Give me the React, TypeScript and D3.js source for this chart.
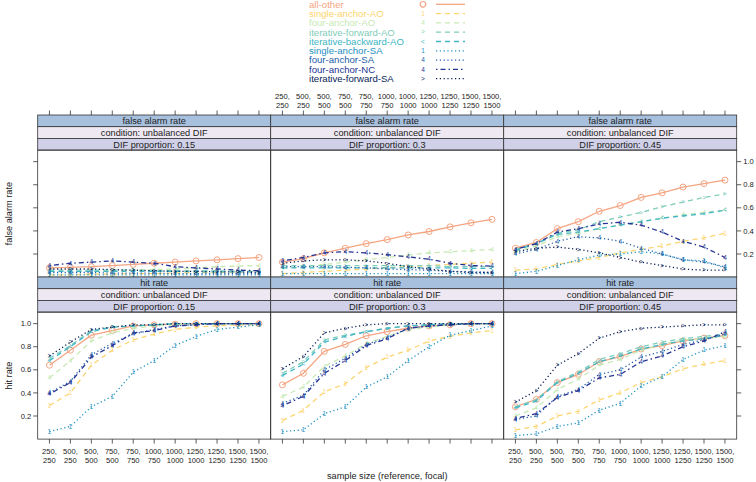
import React from "react";
import * as d3 from "d3";

// sample sizes (reference, focal)
const reference = [250, 500, 500, 750, 750, 1000, 1000, 1250, 1250, 1500, 1500];
const focal = [250, 250, 500, 500, 750, 750, 1000, 1000, 1250, 1250, 1500];
const categories = reference.map((r, i) => `${r},${focal[i]}`);

const methods = [
  "all-other",
  "single-anchor-AO",
  "four-anchor-AO",
  "iterative-forward-AO",
  "iterative-backward-AO",
  "single-anchor-SA",
  "four-anchor-SA",
  "four-anchor-NC",
  "iterative-forward-SA",
];
const colors = ["#F4A582", "#FDD56E", "#C7E9B4", "#7FCDBB", "#41B6C4", "#1D91C0", "#225EA8", "#253494", "#081D58"];
const glyphs = ["o", "1", "4", ">", "<", "1", "4", "4", ">"];
const dashes = [null, "5 4", "5 4", "5 4", "5 4", "1.2 2.6", "1.2 2.6", "1.5 3 5 3", "1.2 2.6"];

const proportions = ["0.15", "0.3", "0.45"];
const measures = ["false alarm rate", "hit rate"];

// false alarm rate, one row per method
const far015 = [
  [0.08, 0.085, 0.09, 0.1, 0.11, 0.12, 0.13, 0.14, 0.15, 0.16, 0.17],
  [0.02, 0.02, 0.025, 0.025, 0.03, 0.03, 0.035, 0.04, 0.04, 0.045, 0.05],
  [0.05, 0.05, 0.05, 0.055, 0.06, 0.065, 0.07, 0.08, 0.09, 0.095, 0.1],
  [0.06, 0.06, 0.06, 0.06, 0.06, 0.055, 0.055, 0.055, 0.055, 0.05, 0.05],
  [0.05, 0.05, 0.05, 0.05, 0.05, 0.05, 0.05, 0.045, 0.045, 0.045, 0.045],
  [0.02, 0.02, 0.02, 0.02, 0.02, 0.02, 0.02, 0.02, 0.02, 0.02, 0.02],
  [0.04, 0.04, 0.04, 0.035, 0.035, 0.035, 0.03, 0.03, 0.03, 0.03, 0.03],
  [0.1, 0.12, 0.13, 0.14, 0.13, 0.12, 0.09, 0.08, 0.07, 0.06, 0.055],
  [0.07, 0.07, 0.07, 0.065, 0.06, 0.055, 0.05, 0.05, 0.045, 0.045, 0.04],
];
const far030 = [
  [0.13, 0.16, 0.21, 0.25, 0.29, 0.325, 0.365, 0.395, 0.435, 0.47, 0.5],
  [0.03, 0.04, 0.05, 0.06, 0.07, 0.08, 0.09, 0.1, 0.11, 0.12, 0.13],
  [0.08, 0.09, 0.11, 0.13, 0.15, 0.17, 0.19, 0.21, 0.22, 0.23, 0.24],
  [0.1, 0.1, 0.1, 0.1, 0.1, 0.1, 0.1, 0.1, 0.09, 0.09, 0.09],
  [0.08, 0.08, 0.08, 0.08, 0.08, 0.08, 0.08, 0.08, 0.08, 0.075, 0.075],
  [0.03, 0.03, 0.03, 0.03, 0.03, 0.03, 0.03, 0.03, 0.03, 0.03, 0.03],
  [0.09, 0.09, 0.09, 0.085, 0.08, 0.07, 0.065, 0.06, 0.05, 0.045, 0.04],
  [0.14, 0.17, 0.21, 0.22, 0.21, 0.195, 0.175, 0.155, 0.12, 0.1, 0.095],
  [0.12, 0.14, 0.15, 0.15, 0.14, 0.12, 0.09, 0.07, 0.05, 0.04, 0.04],
];
const far045 = [
  [0.25, 0.3, 0.42, 0.48, 0.57, 0.62, 0.69, 0.73, 0.78, 0.81, 0.84],
  [0.06, 0.07, 0.11, 0.14, 0.17, 0.21, 0.24, 0.27, 0.31, 0.34, 0.38],
  [0.22, 0.27, 0.35, 0.38, 0.42, 0.45, 0.48, 0.51, 0.54, 0.56, 0.58],
  [0.24, 0.29, 0.38, 0.41, 0.48, 0.52, 0.56, 0.61, 0.65, 0.69, 0.72],
  [0.23, 0.29, 0.37, 0.39, 0.42, 0.45, 0.48, 0.51, 0.53, 0.55, 0.58],
  [0.03, 0.05, 0.1, 0.15, 0.19, 0.2, 0.22, 0.2, 0.15, 0.14, 0.08],
  [0.2, 0.24, 0.31, 0.35, 0.34, 0.31, 0.25, 0.2, 0.15, 0.13, 0.09],
  [0.24, 0.29, 0.39, 0.42, 0.46, 0.475, 0.45, 0.39, 0.31, 0.26, 0.17],
  [0.22, 0.25, 0.26, 0.24, 0.21, 0.17, 0.13, 0.1, 0.07, 0.06, 0.06],
];

// hit rate, one row per method
const hit015 = [
  [0.64, 0.77, 0.9, 0.94, 0.98, 0.99, 0.995, 1, 1, 1, 1],
  [0.29, 0.4, 0.64, 0.77, 0.86, 0.91, 0.95, 0.97, 0.98, 0.99, 0.99],
  [0.53, 0.68, 0.85, 0.92, 0.96, 0.98, 0.99, 1, 1, 1, 1],
  [0.7, 0.81, 0.94, 0.97, 0.98, 0.99, 1, 1, 1, 1, 1],
  [0.68, 0.8, 0.93, 0.97, 0.98, 0.99, 1, 1, 1, 1, 1],
  [0.065, 0.11, 0.28, 0.37, 0.58, 0.68, 0.81, 0.89, 0.95, 0.97, 0.99],
  [0.4, 0.5, 0.73, 0.83, 0.91, 0.95, 0.98, 0.99, 1, 1, 1],
  [0.39, 0.49, 0.71, 0.81, 0.92, 0.94, 0.98, 0.99, 1, 1, 1],
  [0.72, 0.84, 0.95, 0.97, 0.99, 0.99, 1, 1, 1, 1, 1],
];
const hit030 = [
  [0.47, 0.57, 0.76, 0.82, 0.895, 0.93, 0.96, 0.98, 0.99, 1, 1],
  [0.16, 0.25, 0.41, 0.48, 0.62, 0.71, 0.77, 0.85, 0.89, 0.92, 0.94],
  [0.37, 0.45, 0.63, 0.72, 0.83, 0.89, 0.95, 0.97, 0.99, 1, 1],
  [0.57, 0.67, 0.86, 0.9, 0.93, 0.96, 0.98, 0.99, 1, 1, 1],
  [0.55, 0.65, 0.84, 0.89, 0.93, 0.96, 0.98, 0.99, 1, 1, 1],
  [0.065, 0.08, 0.22, 0.28, 0.45, 0.54, 0.68, 0.8, 0.9, 0.94, 0.98],
  [0.31, 0.38, 0.6, 0.7, 0.82, 0.88, 0.96, 0.98, 0.99, 1, 1],
  [0.29, 0.37, 0.57, 0.68, 0.81, 0.87, 0.96, 0.98, 0.99, 1, 1],
  [0.61, 0.715, 0.92, 0.96, 0.99, 1, 1, 1, 1, 1, 1],
];
const hit045 = [
  [0.28, 0.345, 0.49, 0.56, 0.67, 0.715, 0.78, 0.81, 0.85, 0.875, 0.895],
  [0.08, 0.11, 0.2, 0.24, 0.34, 0.4, 0.49, 0.54, 0.61, 0.65, 0.68],
  [0.2, 0.27, 0.43, 0.52, 0.64, 0.69, 0.77, 0.82, 0.86, 0.87, 0.89],
  [0.28, 0.34, 0.5, 0.58, 0.69, 0.74, 0.8, 0.84, 0.87, 0.89, 0.91],
  [0.27, 0.33, 0.49, 0.57, 0.67, 0.72, 0.78, 0.82, 0.85, 0.87, 0.9],
  [0.03, 0.045, 0.11, 0.14, 0.25, 0.31, 0.46, 0.54, 0.69, 0.77, 0.81],
  [0.17, 0.2, 0.37, 0.43, 0.56, 0.6, 0.71, 0.76, 0.82, 0.86, 0.91],
  [0.18, 0.22, 0.36, 0.42, 0.53, 0.56, 0.67, 0.72, 0.8, 0.85, 0.93],
  [0.32, 0.42, 0.64, 0.74, 0.875, 0.93, 0.96, 0.97, 0.98, 0.99, 0.99],
];

const yTicks = [0.2, 0.4, 0.6, 0.8, 1.0];
const panelData = [
  [far015, far030, far045],
  [hit015, hit030, hit045],
];

const font = "'Liberation Sans', Arial, Helvetica, sans-serif";
const stripColors = ["#A7C0DE", "#EEE8F2", "#D0D1E8"];

const App = () => {
  const width = 756;
  const height = 482;
  const left = 37.7;
  const panelW = 233;
  const stripH = 11.7;
  const plotH = 127;
  const rowTops = [115, 277];
  const colX = [0, 1, 2].map((i) => left + i * panelW);

  const xScales = colX.map((x0) =>
    d3.scalePoint<string>().domain(categories).range([x0, x0 + panelW]).padding(0.56)
  );
  const yScales = rowTops.map((t) =>
    d3.scaleLinear().domain([0, 1.1]).range([t + stripH * 3 + plotH, t + stripH * 3])
  );

  const tickLen = 4.5;

  const xTickLabel = (x: number, y: number, i: number, key: string) => (
    <text key={key} x={x} y={y} textAnchor="middle" fontSize={7.6} fill="#222">
      <tspan x={x} dy={0}>{reference[i]},</tspan>
      <tspan x={x} dy={9}>{focal[i]}</tspan>
    </text>
  );

  return (
    <svg
      width={width}
      height={height}
      style={{ position: "absolute", left: 0, top: 0, fontFamily: font }}
    >
      <rect width={width} height={height} fill="#fff" />

      {/* legend */}
      {methods.map((m, i) => {
        const y = 4.3 + i * 9.3;
        return (
          <g key={m}>
            <text x={309} y={y} dy="0.35em" fontSize={9.6} fill={colors[i]}>
              {m}
            </text>
            {i === 0 ? (
              <circle cx={423} cy={y} r={2.8} fill="none" stroke={colors[i]} strokeWidth={1.2} />
            ) : (
              <text x={423} y={y} dy="0.35em" fontSize={6.5} textAnchor="middle" fill={colors[i]}>
                {glyphs[i]}
              </text>
            )}
            <line
              x1={436}
              x2={465}
              y1={y}
              y2={y}
              stroke={colors[i]}
              strokeWidth={1.3}
              strokeDasharray={dashes[i] ?? undefined}
            />
          </g>
        );
      })}

      {rowTops.map((top, r) => {
        const y = yScales[r];
        const plotTop = top + stripH * 3;
        const plotBottom = plotTop + plotH;
        return (
          <g key={`row${r}`}>
            {colX.map((x0, c) => {
              const x = xScales[c];
              const data = panelData[r][c];
              const line = d3
                .line<number>()
                .x((_, i) => x(categories[i]) as number)
                .y((v) => y(v));
              const strips = [
                measures[r],
                "condition: unbalanced DIF",
                `DIF proportion: ${proportions[c]}`,
              ];
              return (
                <g key={`p${r}${c}`}>
                  {strips.map((s, k) => (
                    <g key={s + k}>
                      <rect
                        x={x0}
                        y={top + k * stripH}
                        width={panelW}
                        height={stripH}
                        fill={stripColors[k]}
                        stroke="#333"
                        strokeWidth={0.8}
                      />
                      <text
                        x={x0 + panelW / 2}
                        y={top + k * stripH + stripH / 2}
                        dy="0.36em"
                        textAnchor="middle"
                        fontSize={9.2}
                        fill="#222"
                      >
                        {s}
                      </text>
                    </g>
                  ))}
                  {/* series */}
                  {data.map((vals, m) => (
                    <g key={methods[m]}>
                      <path
                        d={line(vals) ?? ""}
                        fill="none"
                        stroke={colors[m]}
                        strokeWidth={1.3}
                        strokeDasharray={dashes[m] ?? undefined}
                      />
                      {vals.map((v, i) =>
                        m === 0 ? (
                          <circle
                            key={i}
                            cx={x(categories[i])}
                            cy={y(v)}
                            r={3}
                            fill="none"
                            stroke={colors[m]}
                            strokeWidth={1}
                          />
                        ) : (
                          <text
                            key={i}
                            x={x(categories[i])}
                            y={y(v)}
                            dy="0.35em"
                            textAnchor="middle"
                            fontSize={6.5}
                            fill={colors[m]}
                          >
                            {glyphs[m]}
                          </text>
                        )
                      )}
                    </g>
                  ))}
                  <rect
                    x={x0}
                    y={plotTop}
                    width={panelW}
                    height={plotH}
                    fill="none"
                    stroke="#333"
                    strokeWidth={0.8}
                  />
                  {/* x ticks top */}
                  {r === 0 &&
                    categories.map((cat, i) => (
                      <line
                        key={`tt${i}`}
                        x1={x(cat)}
                        x2={x(cat)}
                        y1={top}
                        y2={top - tickLen}
                        stroke="#333"
                        strokeWidth={0.8}
                      />
                    ))}
                  {r === 0 &&
                    c === 1 &&
                    categories.map((cat, i) =>
                      xTickLabel(x(cat) as number, top - 16.5, i, `tl${i}`)
                    )}
                  {/* x ticks bottom */}
                  {r === 1 &&
                    categories.map((cat, i) => (
                      <line
                        key={`bt${i}`}
                        x1={x(cat)}
                        x2={x(cat)}
                        y1={plotBottom}
                        y2={plotBottom + tickLen}
                        stroke="#333"
                        strokeWidth={0.8}
                      />
                    ))}
                  {r === 1 &&
                    c !== 1 &&
                    categories.map((cat, i) =>
                      xTickLabel(x(cat) as number, plotBottom + 15, i, `bl${i}`)
                    )}
                </g>
              );
            })}
            {/* y ticks left and right */}
            {yTicks.map((t) => (
              <g key={`yt${t}`}>
                <line
                  x1={left}
                  x2={left - tickLen}
                  y1={y(t)}
                  y2={y(t)}
                  stroke="#333"
                  strokeWidth={0.8}
                />
                <line
                  x1={left + panelW * 3}
                  x2={left + panelW * 3 + tickLen}
                  y1={y(t)}
                  y2={y(t)}
                  stroke="#333"
                  strokeWidth={0.8}
                />
                {r === 1 && (
                  <text
                    x={left - tickLen - 2}
                    y={y(t)}
                    dy="0.35em"
                    textAnchor="end"
                    fontSize={7.6}
                    fill="#222"
                  >
                    {t.toFixed(1)}
                  </text>
                )}
                {r === 0 && (
                  <text
                    x={left + panelW * 3 + tickLen + 2}
                    y={y(t)}
                    dy="0.35em"
                    textAnchor="start"
                    fontSize={7.6}
                    fill="#222"
                  >
                    {t.toFixed(1)}
                  </text>
                )}
              </g>
            ))}
            <text
              transform={`translate(8.5, ${(plotTop + plotBottom) / 2}) rotate(-90)`}
              textAnchor="middle"
              dy="0.35em"
              fontSize={9.2}
              fill="#222"
            >
              {measures[r]}
            </text>
          </g>
        );
      })}

      <text
        x={left + (panelW * 3) / 2}
        y={476}
        textAnchor="middle"
        dy="0.35em"
        fontSize={9.2}
        fill="#222"
      >
        sample size (reference, focal)
      </text>
    </svg>
  );
};

export default App;
